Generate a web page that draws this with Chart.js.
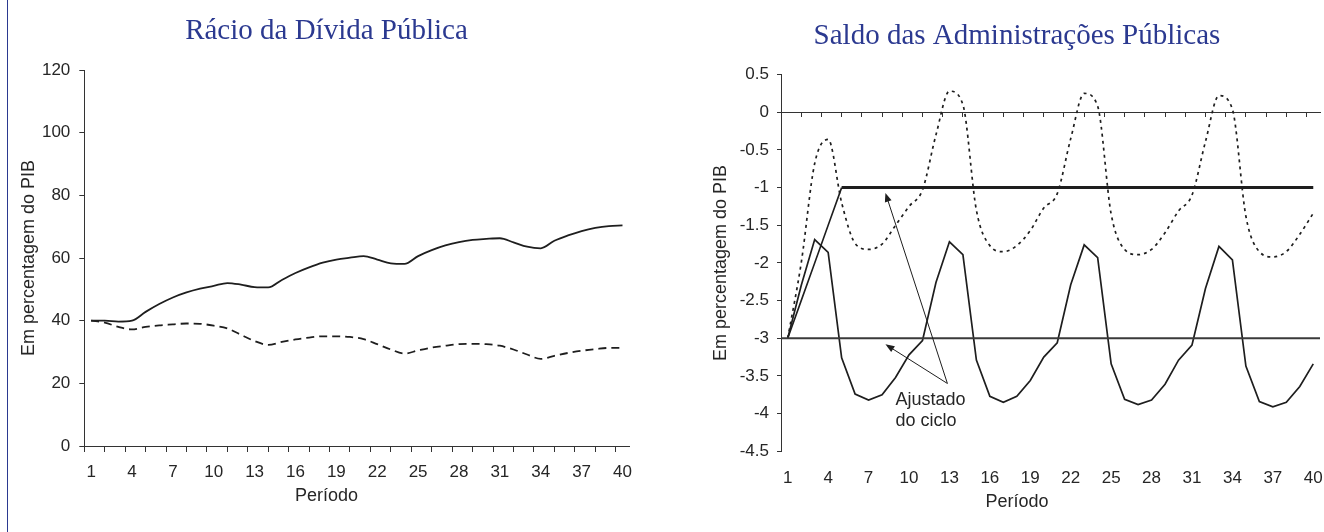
<!DOCTYPE html>
<html>
<head>
<meta charset="utf-8">
<title>Rácio da Dívida Pública / Saldo das Administrações Públicas</title>
<script src="https://cdn.jsdelivr.net/npm/chart.js@4.4.1/dist/chart.umd.min.js"></script>
<style>
  html, body { margin: 0; padding: 0; background: #fff; }
  #page { position: relative; width: 1324px; height: 532px; overflow: hidden; background: #fff; }
  #rule { position: absolute; left: 7px; top: 0; width: 1px; height: 532px; background: #2b3990; }
  #box1 { position: absolute; left: 0; top: 0; width: 653px; height: 532px; }
  #box2 { position: absolute; left: 710px; top: 0; width: 614px; height: 532px; }
</style>
</head>
<body>
<div id="page">
  <div id="box1"><canvas id="debt"></canvas></div>
  <div id="box2"><canvas id="balance"></canvas></div>
  <div id="rule"></div>
</div>
<script>
// periods on the x axis, and the ones that get a label
const periods = [1, 2, 3, 4, 5, 6, 7, 8, 9, 10, 11, 12, 13, 14, 15, 16, 17, 18, 19, 20,
  21, 22, 23, 24, 25, 26, 27, 28, 29, 30, 31, 32, 33, 34, 35, 36, 37, 38, 39, 40];
const periodLabels = [1, 4, 7, 10, 13, 16, 19, 22, 25, 28, 31, 34, 37, 40];

// left chart: debt ratio (% of GDP)
const debtSolid = [40, 40, 39.7, 40, 42.8, 45.3, 47.4, 49, 50.2, 51.1, 52, 51.5, 50.7, 50.6, 53, 55.2,
  57, 58.5, 59.5, 60.1, 60.6, 59.5, 58.3, 58.1, 60.6, 62.5, 64, 65.1, 65.8, 66.1, 66.3, 65, 63.6, 63.1,
  65.5, 67.2, 68.6, 69.6, 70.2, 70.4];
const debtDashed = [40, 39.4, 38, 37.2, 38, 38.5, 38.8, 39.1, 39, 38.4, 37.5, 35.5, 33.5, 32.3, 33.2, 34,
  34.6, 35, 35, 34.8, 34.1, 32.5, 30.8, 29.5, 30.5, 31.4, 32, 32.5, 32.6, 32.5, 32, 30.8, 29.2, 27.8,
  28.8, 29.7, 30.4, 30.9, 31.3, 31.3];

// right chart: general government balance (% of GDP)
const balanceSolid = [-3, -2.3, -1.69, -1.86, -3.26, -3.74, -3.82, -3.75, -3.52, -3.22, -3.03, -2.26,
  -1.72, -1.89, -3.29, -3.77, -3.85, -3.77, -3.56, -3.25, -3.06, -2.29, -1.76, -1.93, -3.34, -3.81,
  -3.88, -3.82, -3.61, -3.29, -3.09, -2.34, -1.78, -1.96, -3.37, -3.84, -3.91, -3.85, -3.64, -3.34];
const balanceDotted = [-3, -2, -0.68, -0.36, -1.2, -1.74, -1.82, -1.75, -1.5, -1.25, -1.03, -0.3, 0.28,
  0.1, -1.3, -1.77, -1.85, -1.77, -1.57, -1.27, -1.08, -0.35, 0.25, 0.08, -1.35, -1.82, -1.89, -1.82,
  -1.6, -1.31, -1.1, -0.39, 0.22, 0.04, -1.38, -1.85, -1.92, -1.85, -1.62, -1.34];
const adjustedRising = [-3, -2.5, -2, -1.5, -1, -1, -1, -1, -1, -1, -1, -1, -1, -1, -1, -1, -1, -1, -1, -1,
  -1, -1, -1, -1, -1, -1, -1, -1, -1, -1, -1, -1, -1, -1, -1, -1, -1, -1, -1, -1];
const adjustedFlat = [{x: 0.5, y: -3}, {x: 40.5, y: -3}];

// callout "Ajustado do ciclo" (in data units of the right chart)
const calloutFrom = [12.85, -3.6];
const calloutTips = [[8.25, -1.07], [8.25, -3.08]];
const calloutLines = ['Ajustado', 'do ciclo'];
const calloutLineY = [-3.89, -4.17];
const calloutTextX = 9.0;

const ink = '#1e1e1e';
const axisColor = '#333';
const textColor = '#262626';
const titleBlue = '#2b3990';

Chart.defaults.font.family = "'Liberation Sans', Arial, sans-serif";
Chart.defaults.color = textColor;

// tick marks every 1.5 periods, like the original axis
const markValues = [];
for (let v = 0.5; v < 40.5; v += 1.5) markValues.push(v);

function xScales(markLen, labelPad, axisHeight, rightGap) {
  return {
    x: {
      type: 'linear', axis: 'x', min: 0.5, max: 40.5,
      grid: {display: false, drawTicks: false},
      border: {display: false},
      ticks: {padding: labelPad, autoSkip: false, maxRotation: 0, font: {size: 17}, color: textColor},
      afterBuildTicks: s => { s.ticks = periodLabels.map(v => ({value: v})); },
      afterFit: s => { s.height = axisHeight; s.paddingLeft = 0; s.paddingRight = rightGap; }
    },
    xMarks: {
      type: 'linear', axis: 'x', min: 0.5, max: 40.5, position: {y: 0},
      grid: {drawOnChartArea: false, tickLength: markLen, color: axisColor},
      border: {color: axisColor},
      ticks: {display: false},
      afterBuildTicks: s => { s.ticks = markValues.map(v => ({value: v})); },
      afterFit: s => { s.height = 0; }
    }
  };
}

const callout = {
  id: 'callout',
  afterDatasetsDraw(chart) {
    const {ctx} = chart;
    const x = chart.scales.x, y = chart.scales.y;
    ctx.save();
    ctx.strokeStyle = ink;
    ctx.fillStyle = ink;
    ctx.lineWidth = 1;
    const x0 = x.getPixelForValue(calloutFrom[0]);
    const y0 = y.getPixelForValue(calloutFrom[1]);
    calloutTips.forEach(tip => {
      const x1 = x.getPixelForValue(tip[0]);
      const y1 = y.getPixelForValue(tip[1]);
      const a = Math.atan2(y1 - y0, x1 - x0);
      const c = Math.cos(a), s = Math.sin(a);
      ctx.beginPath();
      ctx.moveTo(x0, y0);
      ctx.lineTo(x1 - 7 * c, y1 - 7 * s);
      ctx.stroke();
      ctx.beginPath();
      ctx.moveTo(x1, y1);
      ctx.lineTo(x1 - 9 * c + 3.5 * s, y1 - 9 * s - 3.5 * c);
      ctx.lineTo(x1 - 9 * c - 3.5 * s, y1 - 9 * s + 3.5 * c);
      ctx.closePath();
      ctx.fill();
    });
    ctx.fillStyle = textColor;
    ctx.font = "18px 'Liberation Sans', Arial, sans-serif";
    ctx.textAlign = 'left';
    ctx.textBaseline = 'alphabetic';
    calloutLines.forEach((line, i) => {
      ctx.fillText(line, x.getPixelForValue(calloutTextX), y.getPixelForValue(calloutLineY[i]));
    });
    ctx.restore();
  }
};

new Chart(document.getElementById('debt'), {
  type: 'line',
  data: {
    labels: periods,
    datasets: [
      {data: debtSolid, borderColor: ink, borderWidth: 1.8, pointRadius: 0, cubicInterpolationMode: 'monotone'},
      {data: debtDashed, borderColor: ink, borderWidth: 1.8, borderDash: [8, 5], pointRadius: 0, cubicInterpolationMode: 'monotone'}
    ]
  },
  options: {
    responsive: true, maintainAspectRatio: false, animation: false, devicePixelRatio: 1,
    layout: {padding: 0},
    plugins: {
      legend: {display: false},
      tooltip: {enabled: false},
      title: {
        display: true, text: 'Rácio da Dívida Pública', color: titleBlue,
        font: {family: "'Liberation Serif', 'Times New Roman', serif", size: 29, weight: 'normal'},
        padding: {top: 14.1, bottom: 21.1}
      },
      subtitle: {
        display: true, text: 'Período', position: 'bottom', color: textColor,
        font: {size: 18}, padding: {top: 0, bottom: 25.2}
      }
    },
    scales: {
      ...xScales(5, 16, 39.2, 23.7),
      y: {
        min: 0, max: 120,
        ticks: {stepSize: 20, padding: 9, font: {size: 17}, color: textColor},
        grid: {drawOnChartArea: false, tickLength: 5, color: axisColor},
        border: {color: axisColor},
        title: {display: true, text: 'Em percentagem do PIB', font: {size: 18}, color: textColor, padding: {top: 18.7, bottom: 0}},
        afterFit: s => { s.width = 84.3; }
      }
    }
  }
});

new Chart(document.getElementById('balance'), {
  type: 'line',
  data: {
    labels: periods,
    datasets: [
      {data: adjustedFlat, borderColor: '#3a3a3a', borderWidth: 2, pointRadius: 0, xAxisID: 'x', yAxisID: 'y'},
      {data: adjustedRising, borderColor: ink, pointRadius: 0, xAxisID: 'x', yAxisID: 'y',
        borderWidth: 1.6, segment: {borderWidth: c => c.p0DataIndex >= 4 ? 3 : 1.6}},
      {data: balanceSolid, borderColor: ink, borderWidth: 1.7, pointRadius: 0, xAxisID: 'x', yAxisID: 'y'},
      {data: balanceDotted, borderColor: ink, borderWidth: 1.7, borderDash: [3, 4], pointRadius: 0,
        cubicInterpolationMode: 'monotone', xAxisID: 'x', yAxisID: 'y'}
    ]
  },
  options: {
    responsive: true, maintainAspectRatio: false, animation: false, devicePixelRatio: 1,
    layout: {padding: 0},
    plugins: {
      legend: {display: false},
      tooltip: {enabled: false},
      title: {
        display: true, text: 'Saldo das Administrações Públicas', color: titleBlue,
        font: {family: "'Liberation Serif', 'Times New Roman', serif", size: 29, weight: 'normal'},
        padding: {top: 19.1, bottom: 20.7}
      },
      subtitle: {
        display: true, text: 'Período', position: 'bottom', color: textColor,
        font: {size: 18}, padding: {top: 0, bottom: 19.2}
      }
    },
    scales: {
      ...xScales(4, 16.5, 39.9, 4),
      y: {
        min: -4.5, max: 0.5,
        ticks: {stepSize: 0.5, padding: 8, font: {size: 17}, color: textColor, callback: v => String(v)},
        grid: {drawOnChartArea: false, tickLength: 4, color: axisColor},
        border: {color: axisColor},
        title: {display: true, text: 'Em percentagem do PIB', font: {size: 18}, color: textColor, padding: {top: 0.2, bottom: 0}},
        afterFit: s => { s.width = 71; }
      }
    }
  },
  plugins: [callout]
});
</script>
</body>
</html>
